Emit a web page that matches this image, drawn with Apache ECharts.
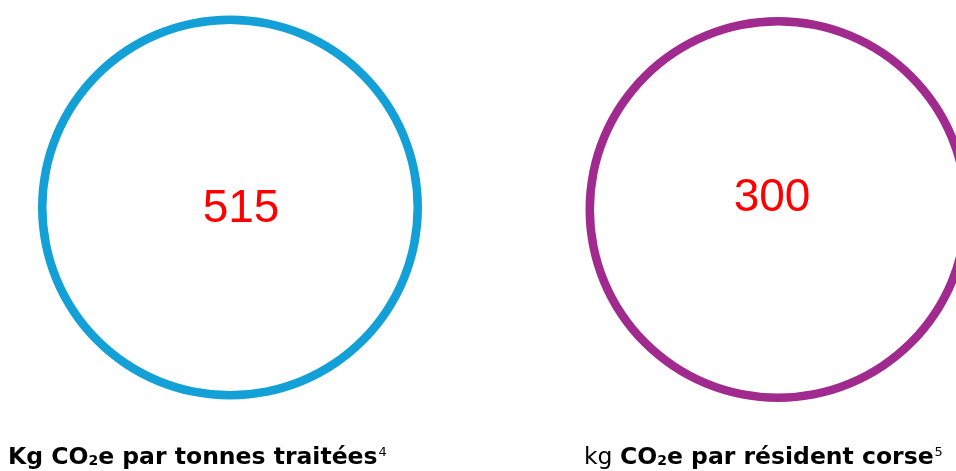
<!DOCTYPE html>
<html><head><meta charset="utf-8">
<script src="https://cdn.jsdelivr.net/npm/echarts@6/dist/echarts.min.js"></script>
<style>html,body{margin:0;padding:0;background:#fff}#c{width:956px;height:471px}</style>
</head><body><div id="c"></div>
<script>
const names = ['tonnes', 'resident'];
const values = [515, 300];
const colors = ['#12A0D7', '#A12A8F'];

const chart = echarts.init(document.getElementById('c'), null, {renderer: 'canvas'});
const rich = {
  b: {fontFamily: 'DejaVu Sans', fontWeight: 'bold', fontSize: 23.5, color: '#000', lineHeight: 30},
  n: {fontFamily: 'DejaVu Sans', fontWeight: 'normal', fontSize: 23.5, color: '#000', lineHeight: 30},
  sub: {fontFamily: 'DejaVu Sans', fontWeight: 'bold', fontSize: 14, color: '#000', lineHeight: 14, verticalAlign: 'bottom', padding: [0, 0, 5, 0]},
  sup: {fontFamily: 'DejaVu Sans', fontWeight: 'normal', fontSize: 13, color: '#000', lineHeight: 13, verticalAlign: 'top', padding: [3, 0, 0, 1]}
};
chart.setOption({
  animation: false,
  backgroundColor: '#fff',
  title: [
    {text: '{b|Kg CO}{sub|2}{b|e par tonnes traitées}{sup|4}', left: 8, top: 443, padding: 0, textStyle: {rich: rich}},
    {text: '{n|kg }{b|CO}{sub|2}{b|e par résident corse}{sup|5}', left: 584, top: 443, padding: 0, textStyle: {rich: rich}}
  ],
  series: [
    {
      type: 'pie', silent: true, center: [230, 207.5], radius: [183.5, 192],
      label: {position: 'center', formatter: '{c}', fontFamily: 'Liberation Sans', fontSize: 46, color: '#FF0000', offset: [11, 2]},
      labelLine: {show: false},
      itemStyle: {color: colors[0], borderWidth: 0},
      data: [{name: names[0], value: values[0]}]
    },
    {
      type: 'pie', silent: true, center: [778, 209.5], radius: [184, 192.5],
      label: {position: 'center', formatter: '{c}', fontFamily: 'Liberation Sans', fontSize: 46, color: '#FF0000', offset: [-6, -11]},
      labelLine: {show: false},
      itemStyle: {color: colors[1], borderWidth: 0},
      data: [{name: names[1], value: values[1]}]
    }
  ]
});
</script></body></html>
